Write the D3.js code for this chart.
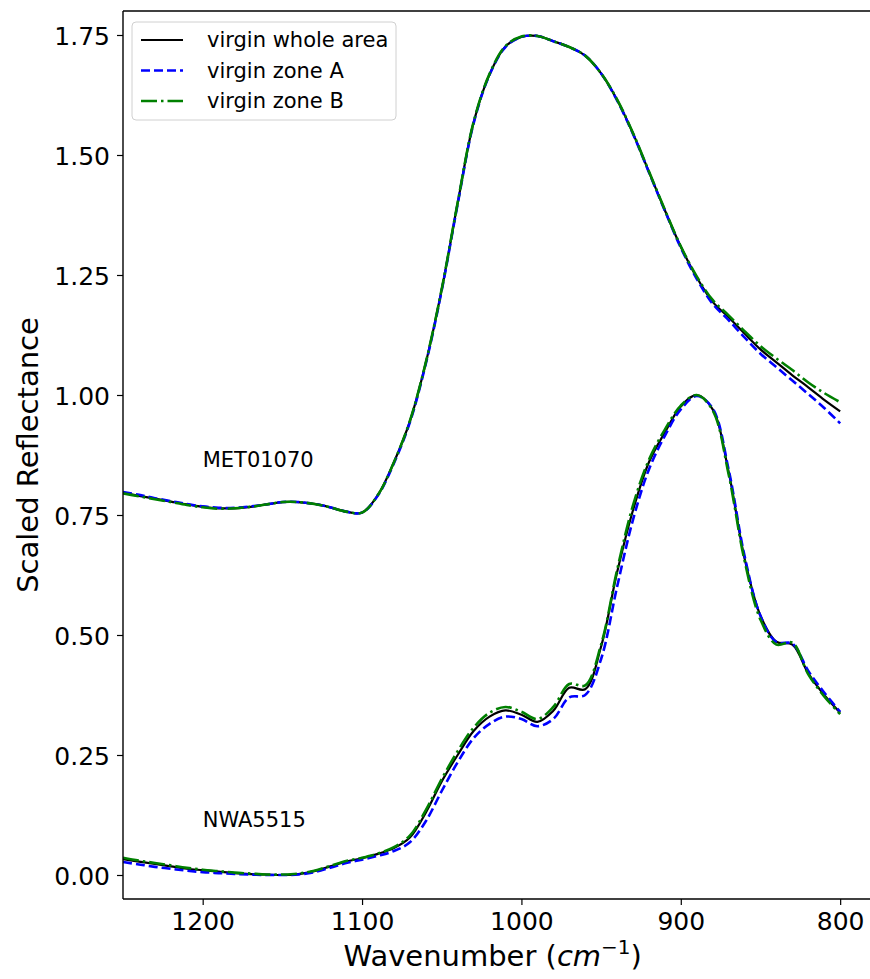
<!DOCTYPE html>
<html>
<head>
<meta charset="utf-8">
<script src="https://cdn.jsdelivr.net/npm/d3@7"></script>
<style>
  body { margin: 0; background: #fff; }
  svg text { font-family: "DejaVu Sans", sans-serif; }
</style>
</head>
<body>
<div id="chart"></div>
<script>
// wavenumbers (cm-1), shared by all spectra
var wavenumbers = [1250, 1240, 1230, 1220, 1210, 1200, 1190, 1180, 1170, 1160,
                   1150, 1140, 1130, 1120, 1110, 1100, 1090, 1080, 1070, 1060,
                   1050, 1040, 1030, 1020, 1010, 1000, 990, 980, 970, 960,
                   950, 940, 930, 920, 910, 900, 890, 880, 870, 860,
                   850, 840, 830, 820, 810, 800];

var metWhole = [0.796, 0.790, 0.784, 0.778, 0.772, 0.767, 0.764, 0.764, 0.767, 0.772,
                0.777, 0.777, 0.773, 0.766, 0.757, 0.755, 0.792, 0.860, 0.945, 1.067,
                1.220, 1.400, 1.568, 1.668, 1.726, 1.746, 1.748, 1.737, 1.725, 1.707,
                1.670, 1.615, 1.545, 1.465, 1.385, 1.309, 1.245, 1.194, 1.162, 1.128,
                1.095, 1.068, 1.041, 1.016, 0.990, 0.966];
var metZoneA = [0.798, 0.792, 0.785, 0.779, 0.773, 0.768, 0.765, 0.765, 0.768, 0.772,
                0.777, 0.777, 0.773, 0.766, 0.757, 0.755, 0.791, 0.858, 0.943, 1.065,
                1.218, 1.398, 1.566, 1.667, 1.725, 1.746, 1.748, 1.737, 1.725, 1.707,
                1.670, 1.614, 1.544, 1.464, 1.384, 1.307, 1.242, 1.190, 1.156, 1.120,
                1.086, 1.058, 1.030, 1.002, 0.973, 0.941];
var metZoneB = [0.795, 0.789, 0.783, 0.777, 0.771, 0.766, 0.763, 0.764, 0.767, 0.772,
                0.777, 0.777, 0.773, 0.766, 0.757, 0.755, 0.792, 0.860, 0.946, 1.068,
                1.221, 1.401, 1.569, 1.669, 1.727, 1.747, 1.748, 1.737, 1.725, 1.707,
                1.670, 1.616, 1.546, 1.466, 1.386, 1.310, 1.247, 1.198, 1.166, 1.133,
                1.102, 1.076, 1.052, 1.026, 1.004, 0.985];

var nwaWhole = [0.033, 0.028, 0.023, 0.018, 0.013, 0.010, 0.007, 0.004, 0.002, 0.001,
                0.000, 0.002, 0.008, 0.018, 0.028, 0.035, 0.044, 0.056, 0.078, 0.130,
                0.195, 0.250, 0.300, 0.330, 0.343, 0.334, 0.319, 0.342, 0.390, 0.387,
                0.476, 0.630, 0.760, 0.860, 0.922, 0.976, 1.000, 0.970, 0.840, 0.660,
                0.540, 0.486, 0.480, 0.420, 0.375, 0.338];
var nwaZoneA = [0.027, 0.022, 0.017, 0.013, 0.009, 0.006, 0.004, 0.002, 0.001, 0.000,
                0.000, 0.001, 0.006, 0.015, 0.025, 0.032, 0.040, 0.050, 0.068, 0.112,
                0.175, 0.235, 0.285, 0.315, 0.330, 0.325, 0.310, 0.325, 0.370, 0.375,
                0.450, 0.600, 0.740, 0.845, 0.915, 0.970, 0.998, 0.972, 0.845, 0.665,
                0.540, 0.485, 0.482, 0.425, 0.380, 0.340];
var nwaZoneB = [0.036, 0.030, 0.025, 0.020, 0.015, 0.011, 0.008, 0.005, 0.003, 0.001,
                0.001, 0.003, 0.009, 0.019, 0.029, 0.036, 0.045, 0.058, 0.082, 0.135,
                0.200, 0.258, 0.307, 0.338, 0.350, 0.340, 0.325, 0.350, 0.398, 0.395,
                0.480, 0.635, 0.770, 0.865, 0.928, 0.978, 1.000, 0.968, 0.835, 0.655,
                0.532, 0.480, 0.484, 0.418, 0.372, 0.335];

var seriesNames = ["virgin whole area", "virgin zone A", "virgin zone B"];
var seriesColors = ["#000000", "#0000ff", "#008000"];
var seriesDashes = [null, "9,4", "16,4,2.5,4"];

var xTicks = [1200, 1100, 1000, 900, 800];
var yTicks = [0, 0.25, 0.5, 0.75, 1.0, 1.25, 1.5, 1.75];

var samples = [
    {name: "MET01070", labelX: 1200, labelY: 0.85, values: [metWhole, metZoneA, metZoneB]},
    {name: "NWA5515", labelX: 1200, labelY: 0.1, values: [nwaWhole, nwaZoneA, nwaZoneB]}
];

var W = 870, H = 979;
var margin = {top: 11, right: -10, bottom: 80, left: 123},
    width = W - margin.left - margin.right,
    height = H - margin.top - margin.bottom;

var svg = d3.select("#chart")
    .append("svg")
        .attr("width", W)
        .attr("height", H)
    .append("g")
        .attr("transform", "translate(" + margin.left + "," + margin.top + ")");

var x = d3.scaleLinear()
    .domain([1250, 775])
    .range([0, width]);

var y = d3.scaleLinear()
    .domain([-0.05, 1.80])
    .range([height, 0]);

var line = d3.line()
    .x(function(d) { return x(d.w); })
    .y(function(d) { return y(d.v); })
    .curve(d3.curveCatmullRom.alpha(0.5));

svg.append("clipPath")
    .attr("id", "plotclip")
    .append("rect")
        .attr("width", width)
        .attr("height", height);

var plot = svg.append("g").attr("clip-path", "url(#plotclip)");

samples.forEach(function(s) {
    s.values.forEach(function(vals, i) {
        var pts = wavenumbers.map(function(w, j) { return {w: w, v: vals[j]}; });
        plot.append("path")
            .datum(pts)
            .attr("d", line)
            .attr("fill", "none")
            .attr("stroke", seriesColors[i])
            .attr("stroke-width", i === 0 ? 2.2 : 2.6)
            .attr("stroke-dasharray", seriesDashes[i]);
    });
    svg.append("text")
        .attr("x", x(s.labelX))
        .attr("y", y(s.labelY))
        .style("font-size", "21px")
        .text(s.name);
});

// axes
var xAxis = svg.append("g")
    .attr("transform", "translate(0," + height + ")")
    .call(d3.axisBottom(x).tickValues(xTicks).tickSize(6).tickPadding(7).tickFormat(d3.format("d")));

var yAxis = svg.append("g")
    .call(d3.axisLeft(y).tickValues(yTicks).tickSize(6).tickPadding(7).tickFormat(d3.format(".2f")));

[xAxis, yAxis].forEach(function(a) {
    a.selectAll("text").style("font-size", "25px").style("font-family", "DejaVu Sans").attr("fill", "#000");
    a.selectAll("line").attr("stroke", "#000").attr("stroke-width", 1.2);
    a.select(".domain").remove();
});
yAxis.selectAll("text").attr("dy", "0.36em");

// spines
svg.append("line").attr("x1", 0).attr("x2", 0).attr("y1", 0).attr("y2", height)
    .attr("stroke", "#000").attr("stroke-width", 1.4);
svg.append("line").attr("x1", 0).attr("x2", width).attr("y1", height).attr("y2", height)
    .attr("stroke", "#000").attr("stroke-width", 1.4);
svg.append("line").attr("x1", 0).attr("x2", width).attr("y1", 0).attr("y2", 0)
    .attr("stroke", "#000").attr("stroke-width", 1.4);

// axis titles
svg.append("text")
    .attr("transform", "rotate(-90)")
    .attr("x", -height / 2)
    .attr("y", -margin.left + 38)
    .attr("text-anchor", "middle")
    .style("font-size", "29px")
    .text("Scaled Reflectance");

var xt = svg.append("text")
    .attr("x", x(1018))
    .attr("y", height + 67)
    .attr("text-anchor", "middle")
    .style("font-size", "29px");
xt.append("tspan").text("Wavenumber (");
xt.append("tspan").style("font-style", "italic").text("cm");
xt.append("tspan").attr("dy", -12).style("font-size", "20px").text("\u22121");
xt.append("tspan").attr("dy", 12).text(")");

// legend
var legend = svg.append("g").attr("transform", "translate(9,11)");
legend.append("rect")
    .attr("width", 264)
    .attr("height", 98)
    .attr("rx", 4)
    .attr("fill", "#fff")
    .attr("fill-opacity", 0.8)
    .attr("stroke", "#d0d0d0");

seriesNames.forEach(function(n, i) {
    var g = legend.append("g").attr("transform", "translate(0," + (18 + i * 30.5) + ")");
    g.append("line")
        .attr("x1", 9).attr("x2", 51)
        .attr("stroke", seriesColors[i])
        .attr("stroke-width", i === 0 ? 2.2 : 2.6)
        .attr("stroke-dasharray", seriesDashes[i]);
    g.append("text")
        .attr("x", 75)
        .attr("dy", "0.35em")
        .style("font-size", "21px")
        .text(n);
});
</script>
</body>
</html>
